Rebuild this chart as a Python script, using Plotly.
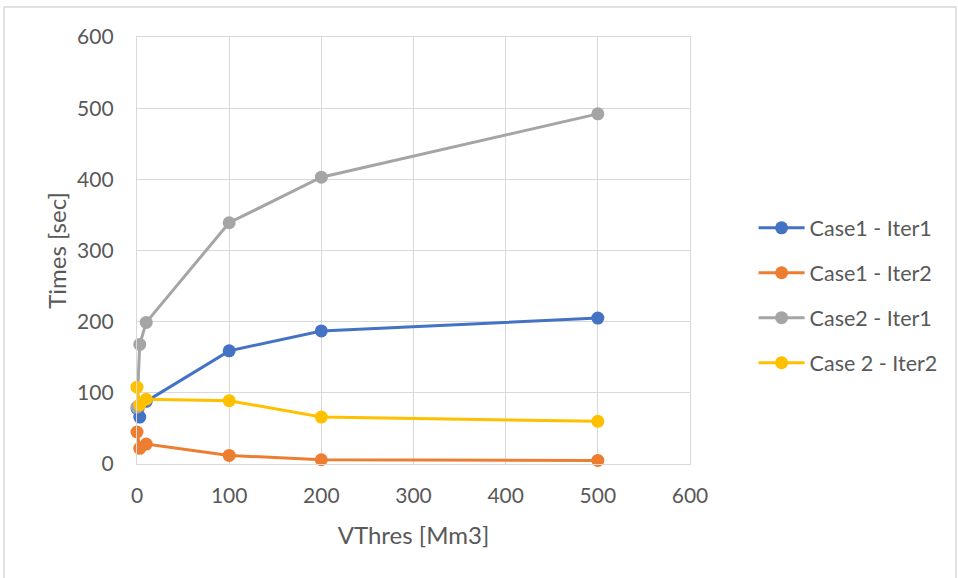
import plotly.graph_objects as go

# Threshold volumes (Mm3) at which run times were measured
vthres = [0, 3, 10, 100, 200, 500]

# Run times in seconds per case / iteration
case1_iter1 = [78, 66, 88, 159, 187, 205]
case1_iter2 = [45, 22, 28, 12, 6, 5]
case2_iter1 = [80, 168, 199, 339, 403, 492]
case2_iter2 = [108, 83, 91, 89, 66, 60]

series_names = ["Case1 - Iter1", "Case1 - Iter2", "Case2 - Iter1", "Case 2 - Iter2"]
series_values = [case1_iter1, case1_iter2, case2_iter1, case2_iter2]
series_colors = ["#4472C4", "#ED7D31", "#A5A5A5", "#FFC000"]

axis_ticks = [0, 100, 200, 300, 400, 500, 600]

FONT = "Lato"
TEXT_COLOR = "#595959"
GRID_COLOR = "#D9D9D9"
TICK_SIZE = 21
TITLE_SIZE = 24
LEGEND_SIZE = 21.5

fig = go.Figure()
for i, (name, vals, col) in enumerate(zip(series_names, series_values, series_colors)):
    fig.add_trace(go.Scatter(
        x=vthres, y=vals, name=name, mode="lines+markers",
        line=dict(color=col, width=3),
        marker=dict(color=col, size=13),
        cliponaxis=False,
        legendgroup=f"g{i}",
    ))

fig.update_layout(
    width=958, height=578,
    margin=dict(l=137, r=268, t=37, b=114),
    paper_bgcolor="white", plot_bgcolor="white",
    font=dict(family=FONT, size=TICK_SIZE, color=TEXT_COLOR),
    showlegend=True,
    legend=dict(
        x=1.115, xanchor="left", y=0.395, yanchor="middle",
        font=dict(family=FONT, size=LEGEND_SIZE, color=TEXT_COLOR),
        tracegroupgap=14, itemwidth=46,
        bgcolor="rgba(0,0,0,0)",
    ),
    xaxis=dict(
        range=[0, 600], tickvals=axis_ticks, showgrid=True, gridcolor=GRID_COLOR,
        gridwidth=1.3, zeroline=False, showline=True, linecolor=GRID_COLOR,
        linewidth=1.3, mirror=True, ticks="", ticklabelstandoff=13,
        tickfont=dict(family=FONT, size=TICK_SIZE, color=TEXT_COLOR),
        title=dict(text="VThres [Mm3]", standoff=20,
                   font=dict(family=FONT, size=TITLE_SIZE, color=TEXT_COLOR)),
    ),
    yaxis=dict(
        range=[0, 600], tickvals=axis_ticks, showgrid=True, gridcolor=GRID_COLOR,
        gridwidth=1.3, zeroline=False, showline=True, linecolor=GRID_COLOR,
        linewidth=1.3, mirror=True, ticks="", ticklabelstandoff=18,
        tickfont=dict(family=FONT, size=TICK_SIZE, color=TEXT_COLOR),
        title=dict(text="Times [sec]", standoff=3,
                   font=dict(family=FONT, size=TITLE_SIZE, color=TEXT_COLOR)),
    ),
    shapes=[dict(
        type="rect", xref="paper", yref="paper",
        x0=(4 - 137) / 553, x1=(956 - 137) / 553,
        y0=(464 - 600) / 427, y1=(464 - 7) / 427,
        line=dict(color=GRID_COLOR, width=1.5), fillcolor="rgba(0,0,0,0)",
        layer="below",
    )],
)

fig.write_html("out.html")
